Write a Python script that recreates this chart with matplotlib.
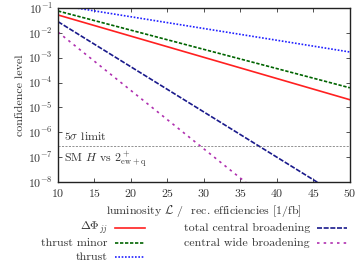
import numpy as np
import matplotlib
matplotlib.use('Agg')
import matplotlib.pyplot as plt
from matplotlib.lines import Line2D

plt.rcParams['font.family'] = 'serif'
plt.rcParams['font.serif'] = ['cmr10', 'DejaVu Serif']
plt.rcParams['mathtext.fontset'] = 'cm'
plt.rcParams['axes.formatter.use_mathtext'] = True
FS = 8.6
plt.rcParams['font.size'] = FS

# luminosity range and log10 of confidence level at both ends
lumi = [10, 50]
names = ['$\\Delta\\Phi_{jj}$', 'thrust minor', 'thrust',
         'total central broadening', 'central wide broadening']
log_cl_start = [-1.28, -1.12, -0.88, -1.55, -1.97]
log_cl_end = [-4.69, -4.21, -2.77, -8.82, -11.37]
colors = ['#ff2020', '#006400', '#2020ff', '#1a1a8c', '#b030b0']
styles = ['-', (0, (2, 1)), (0, (1, 1)), (0, (3, 1)), (0, (1.5, 2.5))]
limit_5sigma = 2.87e-7

fig = plt.figure(figsize=(3.57, 2.61), dpi=100)
ax = fig.add_axes([0.1625, 0.3027, 0.8175, 0.6666])

x = np.array(lumi)
for n, a, b, c, s in zip(names, log_cl_start, log_cl_end, colors, styles):
    ax.plot(x, 10.0 ** np.array([a, b]), color=c, linestyle=s, lw=1.2)

ax.axhline(limit_5sigma, color='#666666', lw=0.5, linestyle=(0, (3, 2)))
ax.text(10.8, 4.2e-7, '$5\\sigma$ limit', fontsize=FS, color='#333333', va='bottom')
ax.text(10.8, 1.9e-7, 'SM $H$ vs $2^+_{\\rm ew+q}$', fontsize=FS, color='#333333', va='top')

ax.set_yscale('log')
ax.set_xlim(10, 50)
ax.set_ylim(1e-8, 1e-1)
ax.set_xticks(range(10, 51, 5))
ax.set_yticks([10.0 ** k for k in range(-8, 0)])
ax.tick_params(which='both', direction='in', top=True, right=True, colors='#333333',
               labelcolor='#333333', labelsize=FS)
ax.tick_params(which='major', length=3, width=0.6)
ax.tick_params(which='minor', length=1.5, width=0.5)
ax.minorticks_on()
ax.xaxis.set_minor_locator(plt.NullLocator())
for sp in ax.spines.values():
    sp.set_linewidth(1.0)
    sp.set_color('#222222')

ax.set_xlabel('luminosity $\\mathcal{L}$ /  rec. efficiencies [1/fb]', color='#333333', labelpad=3)
ax.set_ylabel('confidence level', color='#333333', labelpad=2)

# legend drawn by hand, gnuplot style: text right aligned, sample to the right
rows_y = [1 - 228 / 261, 1 - 243 / 261, 1 - 257 / 261]
col_text_x = [108 / 357, 310 / 357]
col_line_x = [(115 / 357, 145 / 357), (317 / 357, 347 / 357)]
for i in range(len(names)):
    col = 0 if i < 3 else 1
    row = i if i < 3 else i - 3
    fig.text(col_text_x[col], rows_y[row], names[i], ha='right', va='center',
             color='#333333', fontsize=FS)
    fig.add_artist(Line2D(col_line_x[col], [rows_y[row]] * 2, color=colors[i],
                          linestyle=styles[i], lw=1.2, transform=fig.transFigure))

fig.savefig('out.png', dpi=100)
